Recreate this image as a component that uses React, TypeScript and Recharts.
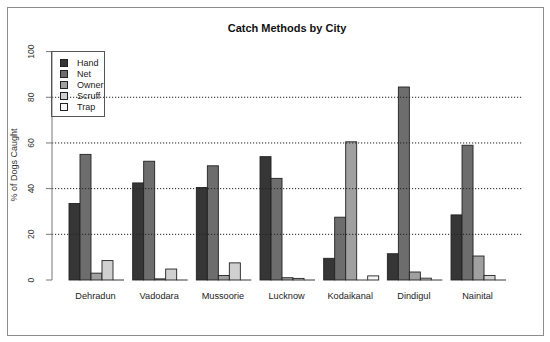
import React from "react";
import { BarChart, Bar, XAxis, YAxis, ReferenceLine } from "recharts";

const cities = ["Dehradun", "Vadodara", "Mussoorie", "Lucknow", "Kodaikanal", "Dindigul", "Nainital"];
const hand = [33.5, 42.5, 40.5, 54, 9.5, 11.5, 28.5];
const net = [55, 52, 50, 44.5, 27.5, 84.5, 59];
const owner = [3, 0.5, 2, 1, 60.5, 3.5, 10.5];
const scruff = [8.5, 4.8, 7.5, 0.7, 0, 0.8, 2];
const trap = [0, 0, 0, 0, 1.8, 0, 0];
const yTicks = [0, 20, 40, 60, 80, 100];
const gridValues = [20, 40, 60, 80];

const methods = [
  { key: "Hand", color: "#363636" },
  { key: "Net", color: "#6d6d6d" },
  { key: "Owner", color: "#a0a0a0" },
  { key: "Scruff", color: "#d0d0d0" },
  { key: "Trap", color: "#f6f6f6" },
];

const data = cities.map((city, i) => ({
  city,
  Hand: hand[i],
  Net: net[i],
  Owner: owner[i],
  Scruff: scruff[i],
  Trap: trap[i],
}));

const FONT = '"Liberation Sans", Arial, Helvetica, sans-serif';

// R-style bar: outlined rect, zero-height bars still leave a baseline stroke
const RBar = (props: any) => {
  const { x, y, width, height, fill } = props;
  if (x == null || y == null) return null;
  const h = Math.max(height || 0, 0);
  if (h < 0.5) {
    return <line x1={x} x2={x + width} y1={y + h} y2={y + h} stroke="#222" strokeWidth={0.9} />;
  }
  return <rect x={x} y={y} width={width} height={h} fill={fill} stroke="#222" strokeWidth={0.9} />;
};

const YTick = ({ y, payload }: any) => (
  <text
    x={34}
    y={y}
    transform={`rotate(-90 34 ${y})`}
    textAnchor="middle"
    fontSize={8.5}
    fill="#333"
    fontFamily={FONT}
  >
    {payload.value}
  </text>
);

export default function App() {
  return (
    <div style={{ position: "fixed", left: 0, top: 0, width: 550, height: 342, background: "#fff" }}>
      <div
        style={{
          position: "absolute",
          left: 7,
          top: 7,
          width: 537,
          height: 329,
          border: "1.5px solid #8c8c8c",
          boxSizing: "border-box",
        }}
      />
      <div
        style={{
          position: "absolute",
          left: 0,
          width: 574,
          top: 22,
          textAlign: "center",
          fontFamily: FONT,
          fontWeight: "bold",
          fontSize: 11,
          color: "#111",
        }}
      >
        Catch Methods by City
      </div>
      <div
        style={{
          position: "absolute",
          left: 14,
          top: 165,
          transform: "translate(-50%, -50%) rotate(-90deg)",
          fontFamily: FONT,
          fontSize: 9,
          color: "#333",
          whiteSpace: "nowrap",
        }}
      >
        % of Dogs Caught
      </div>
      <BarChart
        width={550}
        height={342}
        data={data}
        margin={{ top: 51.6, right: 28, bottom: 32, left: 0 }}
        barCategoryGap={5.3}
        barGap={0}
        style={{ position: "absolute", left: 0, top: 0 }}
      >
        {gridValues.map((v) => (
          <ReferenceLine key={v} y={v} stroke="#222" strokeDasharray="1.2 1.8" strokeWidth={1} />
        ))}
        <XAxis
          dataKey="city"
          height={30}
          axisLine={false}
          tickLine={false}
          tickSize={0}
          tickMargin={12}
          padding={{ left: 11.7, right: 12.6 }}
          tick={{ fontSize: 9.2, fill: "#222", fontFamily: FONT }}
          interval={0}
        />
        <YAxis
          width={52}
          domain={[0, 100]}
          ticks={yTicks}
          stroke="#777"
          tickSize={6}
          tick={<YTick />}
        />
        {methods.map((m) => (
          <Bar key={m.key} dataKey={m.key} fill={m.color} shape={<RBar />} isAnimationActive={false} />
        ))}
      </BarChart>
      <div
        style={{
          position: "absolute",
          left: 51,
          top: 51,
          width: 54,
          height: 66,
          border: "1px solid #555",
          boxSizing: "border-box",
          fontFamily: FONT,
          fontSize: 9,
          color: "#222",
          paddingTop: 5,
        }}
      >
        {methods.map((m) => (
          <div key={m.key} style={{ display: "flex", alignItems: "center", height: 11 }}>
            <span
              style={{
                display: "inline-block",
                width: 6,
                height: 6,
                marginLeft: 8,
                marginRight: 9,
                background: m.color,
                border: "0.9px solid #222",
              }}
            />
            {m.key}
          </div>
        ))}
      </div>
    </div>
  );
}
